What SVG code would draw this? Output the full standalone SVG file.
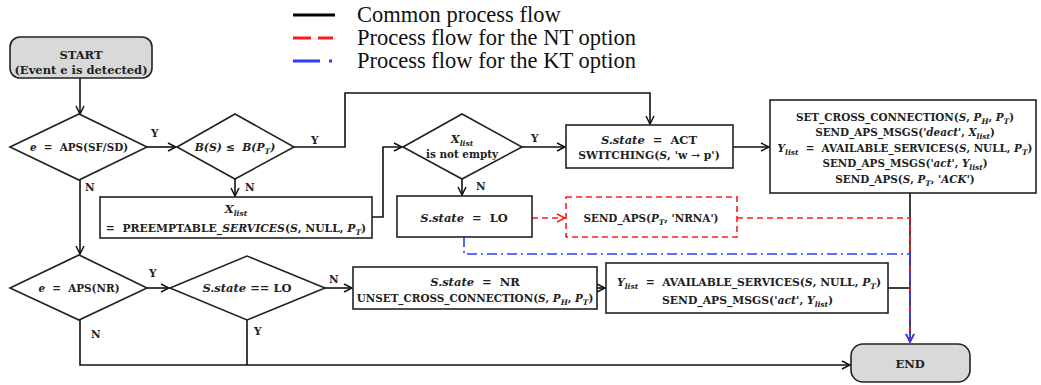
<svg xmlns="http://www.w3.org/2000/svg" width="1041" height="385" viewBox="0 0 1041 385">
  <style>
    .box { fill: #fff; stroke: #222; stroke-width: 1.6; }
    .term { fill: #d9d9d9; stroke: #222; stroke-width: 1.6; }
    .flow { fill: none; stroke: #111; stroke-width: 1.6; }
    .nt { fill: none; stroke: #ff1a1a; stroke-width: 1.6; stroke-dasharray: 6 4; }
    .kt { fill: none; stroke: #2b3cff; stroke-width: 1.6; stroke-dasharray: 10 4 2 4; }
    .t { font-family: "DejaVu Serif", "Liberation Serif", serif; font-weight: bold; font-size: 10.4px; fill: #222; white-space: pre; }
    .lg { font-size: 11.5px; }
    .md { font-size: 10.8px; }
    .c { text-anchor: middle; }
    .i { font-style: italic; }
    .sub { font-size: 7.5px; }
    .lbl { font-family: "DejaVu Serif", "Liberation Serif", serif; font-weight: bold; font-size: 10.5px; fill: #222; }
    .leg { font-family: "Liberation Serif", serif; font-size: 22.5px; fill: #111; }
  </style>
  <defs>
    <marker id="arr" viewBox="0 0 10 10" refX="9" refY="5" markerWidth="10" markerHeight="10" markerUnits="userSpaceOnUse" orient="auto">
      <path d="M1,1 L9,5 L1,9" fill="none" stroke="#111" stroke-width="1.5"/>
    </marker>
    <marker id="arrRed" viewBox="0 0 10 10" refX="9" refY="5" markerWidth="10" markerHeight="10" markerUnits="userSpaceOnUse" orient="auto">
      <path d="M1,1 L9,5 L1,9" fill="none" stroke="#ff1a1a" stroke-width="1.5"/>
    </marker>
    <marker id="arrBlue" viewBox="0 0 10 10" refX="9" refY="5" markerWidth="10" markerHeight="10" markerUnits="userSpaceOnUse" orient="auto">
      <path d="M1,1 L9,5 L1,9" fill="none" stroke="#2b3cff" stroke-width="1.5"/>
    </marker>
  </defs>

  <!-- legend -->
  <g id="legend">
    <line x1="293" y1="15" x2="335" y2="15" stroke="#000" stroke-width="3.2"/>
    <line x1="293" y1="38" x2="333" y2="38" stroke="#ff1a1a" stroke-width="3.2" stroke-dasharray="18 7"/>
    <line x1="293" y1="61" x2="334" y2="61" stroke="#2b3cff" stroke-width="3.2" stroke-dasharray="27 9 3 9"/>
    <text class="leg" x="357" y="22">Common process flow</text>
    <text class="leg" x="357" y="45">Process flow for the NT option</text>
    <text class="leg" x="357" y="68">Process flow for the KT option</text>
  </g>

  <!-- connectors -->
  <g id="connectors">
    <path class="flow" d="M80,78 V114" marker-end="url(#arr)"/>
    <path class="flow" d="M147,147 H176" marker-end="url(#arr)"/>
    <path class="flow" d="M80,180 V254" marker-end="url(#arr)"/>
    <path class="flow" d="M294,147 H345 V93 H650 V124" marker-end="url(#arr)"/>
    <path class="flow" d="M235,179 V196" marker-end="url(#arr)"/>
    <path class="flow" d="M372,217 H383 V147 H402" marker-end="url(#arr)"/>
    <path class="flow" d="M522,147 H565" marker-end="url(#arr)"/>
    <path class="flow" d="M462,179 V195" marker-end="url(#arr)"/>
    <path class="flow" d="M733,147 H769" marker-end="url(#arr)"/>
    <path class="flow" d="M910,193 V342" marker-end="url(#arr)"/>
    <path class="flow" d="M147,288 H169" marker-end="url(#arr)"/>
    <path class="flow" d="M325,288 H352" marker-end="url(#arr)"/>
    <path class="flow" d="M597,288 H605" marker-end="url(#arr)"/>
    <path class="flow" d="M888,288 H910"/>
    <path class="flow" d="M80,320 V365 H850" marker-end="url(#arr)"/>
    <path class="flow" d="M247,320 V365"/>
    <path class="nt" d="M532,218 H565" marker-end="url(#arrRed)"/>
    <path class="nt" d="M737,218 H910 V342" marker-end="url(#arrRed)"/>
    <path class="kt" d="M464,237 V254 H910 V342" marker-end="url(#arrBlue)"/>
  </g>

  <!-- branch labels -->
  <g id="branch-labels">
    <text class="lbl" x="151" y="137">Y</text>
    <text class="lbl" x="85" y="191">N</text>
    <text class="lbl" x="311" y="144">Y</text>
    <text class="lbl" x="245" y="191">N</text>
    <text class="lbl" x="531" y="142">Y</text>
    <text class="lbl" x="476" y="190">N</text>
    <text class="lbl" x="149" y="277">Y</text>
    <text class="lbl" x="91" y="338">N</text>
    <text class="lbl" x="329" y="283">N</text>
    <text class="lbl" x="254" y="335">Y</text>
  </g>

  <g id="start">
    <rect class="term" x="10" y="37" width="142" height="41" rx="10"/>
    <text class="t lg c" x="81" y="59">START</text>
    <text class="t lg c" x="81" y="74">(Event e is detected)</text>
  </g>

  <g id="dec-aps-sfsd">
    <polygon class="box" points="10,147 79,114 147,147 79,180"/>
    <text class="t c" x="79" y="151"><tspan class="i">e</tspan>  =  APS(SF/SD)</text>
  </g>

  <g id="dec-bandwidth">
    <polygon class="box" points="177,147 235,114 294,147 235,179"/>
    <text class="t md c i" x="235" y="151">B(S) ≤  B(P<tspan class="sub" dy="3">T</tspan><tspan dy="-3">)</tspan></text>
  </g>

  <g id="preemptable">
    <rect class="box" x="100" y="197" width="272" height="41"/>
    <text class="t lg c i" x="236" y="213">X<tspan class="sub" dy="3">list</tspan></text>
    <text class="t md c" x="236" y="232">=  PREEMPTABLE_<tspan class="i">SERVICES</tspan>(<tspan class="i">S</tspan>, NULL, <tspan class="i">P</tspan><tspan class="sub i" dy="3">T</tspan><tspan dy="-3">)</tspan></text>
  </g>

  <g id="dec-xlist">
    <polygon class="box" points="403,147 462,114 522,147 462,179"/>
    <text class="t lg c i" x="462" y="143">X<tspan class="sub" dy="3">list</tspan></text>
    <text class="t c" x="462" y="158">is not empty</text>
  </g>

  <g id="state-act">
    <rect class="box" x="566" y="125" width="167" height="43"/>
    <text class="t lg c" x="649" y="144"><tspan class="i">S.state</tspan>  =  ACT</text>
    <text class="t md c" x="649" y="159">SWITCHING(<tspan class="i">S</tspan>, 'w → p')</text>
  </g>

  <g id="state-lo">
    <rect class="box" x="397" y="196" width="135" height="41"/>
    <text class="t lg c" x="464" y="222"><tspan class="i">S.state</tspan>  =  LO</text>
  </g>

  <g id="send-nrna">
    <rect x="566" y="197" width="171" height="40" fill="#fff" stroke="#ff1a1a" stroke-width="1.6" stroke-dasharray="6 4"/>
    <text class="t c" x="651" y="222">SEND_APS(<tspan class="i">P</tspan><tspan class="sub i" dy="3">T</tspan><tspan dy="-3">, 'NRNA')</tspan></text>
  </g>

  <g id="set-cross">
    <rect class="box" x="770" y="100" width="266" height="93"/>
    <text class="t c" x="905" y="121">SET_CROSS_CONNECTION(<tspan class="i">S</tspan>, <tspan class="i">P</tspan><tspan class="sub i" dy="3">H</tspan><tspan dy="-3">, </tspan><tspan class="i">P</tspan><tspan class="sub i" dy="3">T</tspan><tspan dy="-3">)</tspan></text>
    <text class="t c" x="905" y="136">SEND_APS_MSGS(<tspan class="i">'deact'</tspan>, <tspan class="i">X</tspan><tspan class="sub i" dy="3">list</tspan><tspan dy="-3">)</tspan></text>
    <text class="t c" x="905" y="152"><tspan class="i">Y</tspan><tspan class="sub i" dy="3">list</tspan><tspan dy="-3">  =  AVAILABLE_SERVICES(</tspan><tspan class="i">S</tspan>, NULL, <tspan class="i">P</tspan><tspan class="sub i" dy="3">T</tspan><tspan dy="-3">)</tspan></text>
    <text class="t c" x="905" y="167">SEND_APS_MSGS(<tspan class="i">'act'</tspan>, <tspan class="i">Y</tspan><tspan class="sub i" dy="3">list</tspan><tspan dy="-3">)</tspan></text>
    <text class="t c" x="905" y="183">SEND_APS(<tspan class="i">S</tspan>, <tspan class="i">P</tspan><tspan class="sub i" dy="3">T</tspan><tspan dy="-3">, </tspan><tspan class="i">'ACK'</tspan>)</text>
  </g>

  <g id="dec-aps-nr">
    <polygon class="box" points="10,288 79,255 147,288 79,320"/>
    <text class="t c" x="79" y="292"><tspan class="i">e</tspan>  =  APS(NR)</text>
  </g>

  <g id="dec-state-lo">
    <polygon class="box" points="170,288 247,256 325,288 247,320"/>
    <text class="t lg c" x="247" y="292"><tspan class="i">S.state</tspan> == LO</text>
  </g>

  <g id="unset-cross">
    <rect class="box" x="353" y="267" width="244" height="42"/>
    <text class="t lg c" x="475" y="286"><tspan class="i">S.state</tspan>  =  NR</text>
    <text class="t c" x="475" y="302">UNSET_CROSS_CONNECTION(<tspan class="i">S</tspan>, <tspan class="i">P</tspan><tspan class="sub i" dy="3">H</tspan><tspan dy="-3">, </tspan><tspan class="i">P</tspan><tspan class="sub i" dy="3">T</tspan><tspan dy="-3">)</tspan></text>
  </g>

  <g id="available">
    <rect class="box" x="606" y="263" width="282" height="50"/>
    <text class="t md" x="617" y="286"><tspan class="i">Y</tspan><tspan class="sub i" dy="3">list</tspan><tspan dy="-3">  =  AVAILABLE_SERVICES(</tspan><tspan class="i">S</tspan>, NULL, <tspan class="i">P</tspan><tspan class="sub i" dy="3">T</tspan><tspan dy="-3">)</tspan></text>
    <text class="t md" x="662" y="304">SEND_APS_MSGS(<tspan class="i">'act'</tspan>, <tspan class="i">Y</tspan><tspan class="sub i" dy="3">list</tspan><tspan dy="-3">)</tspan></text>
  </g>

  <g id="end">
    <rect class="term" x="851" y="344" width="119" height="38" rx="12"/>
    <text class="t lg c" x="910" y="368">END</text>
  </g>
</svg>
